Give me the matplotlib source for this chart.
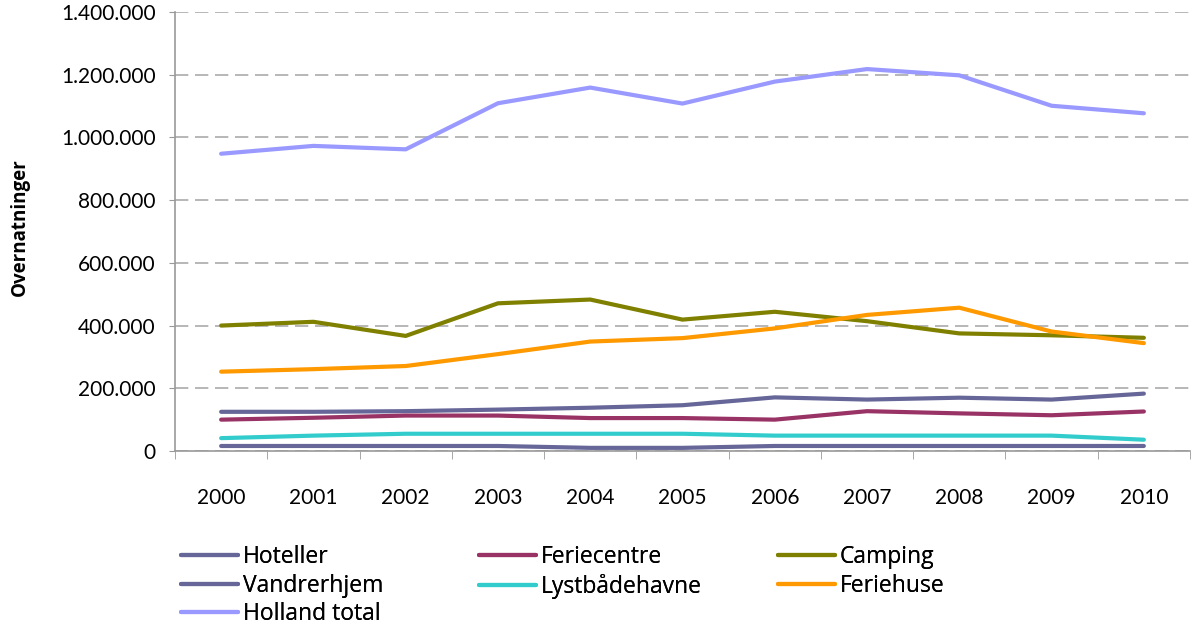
import matplotlib
matplotlib.use("Agg")
import matplotlib.pyplot as plt
from matplotlib.ticker import FuncFormatter, FixedLocator

plt.rcParams['font.family'] = ['Lato', 'DejaVu Sans']

years = ['2000', '2001', '2002', '2003', '2004', '2005', '2006', '2007', '2008', '2009', '2010']
hoteller = [125000, 125000, 127000, 132000, 138000, 146000, 171000, 164000, 170000, 164000, 183000]
feriecentre = [100000, 106000, 113000, 113000, 105000, 105000, 100000, 127000, 120000, 114000, 126000]
camping = [400000, 412000, 367000, 471000, 483000, 419000, 444000, 414000, 375000, 369000, 361000]
vandrerhjem = [16000, 16000, 16000, 16000, 10000, 10000, 16000, 16000, 16000, 16000, 16000]
lystbaadehavne = [41000, 49000, 55000, 55000, 55000, 55000, 49000, 49000, 49000, 49000, 36000]
feriehuse = [253000, 261000, 271000, 309000, 349000, 360000, 391000, 434000, 457000, 381000, 344000]
holland_total = [948000, 973000, 962000, 1109000, 1159000, 1108000, 1178000, 1218000, 1198000, 1101000, 1077000]

series = [
    ('Hoteller', hoteller, '#666699'),
    ('Feriecentre', feriecentre, '#993366'),
    ('Camping', camping, '#808000'),
    ('Vandrerhjem', vandrerhjem, '#666699'),
    ('Lystbådehavne', lystbaadehavne, '#33CCCC'),
    ('Feriehuse', feriehuse, '#FF9900'),
    ('Holland total', holland_total, '#9999FF'),
]

W, H = 1192, 627
fig = plt.figure(figsize=(W / 100, H / 100), dpi=100)
ax = fig.add_axes([175 / W, 1 - 451 / H, (1190 - 175) / W, (451 - 12) / H])

x = list(range(len(years)))
handles = {}
for name, vals, col in series:
    ln, = ax.plot(x, vals, color=col, lw=3, solid_joinstyle='round', solid_capstyle='round')
    handles[name] = ln

ax.set_xlim(-0.5, len(years) - 0.5)
ax.set_ylim(0, 1400000)
ax.set_yticks(range(0, 1400001, 200000))
ax.yaxis.set_major_formatter(FuncFormatter(lambda v, p: f"{int(v):,}".replace(',', '.')))
ax.grid(axis='y', color='#AAAAAA', linestyle=(0, (8, 4)), lw=1.2)
ax.set_axisbelow(True)

ax.set_xticks(x)
ax.set_xticklabels(years)
ax.xaxis.set_minor_locator(FixedLocator([i - 0.5 for i in range(len(years) + 1)]))
ax.tick_params(axis='x', which='major', length=0, pad=27, labelsize=15)
ax.tick_params(axis='x', which='minor', length=6, color='#999999', direction='out')
ax.tick_params(axis='y', length=4, color='#999999', pad=10, labelsize=15)

for s in ['top', 'right']:
    ax.spines[s].set_visible(False)
for s in ['left', 'bottom']:
    ax.spines[s].set_color('#999999')
    ax.spines[s].set_linewidth(1.2)

fig.text(20 / W, 1 - 227 / H, 'Overnatninger', rotation=90, ha='center', va='center',
         fontsize=13.5, fontweight='bold', family=['Open Sans', 'DejaVu Sans'])

cols = [['Hoteller', 'Vandrerhjem', 'Holland total'],
        ['Feriecentre', 'Lystbådehavne'],
        ['Camping', 'Feriehuse']]
xs = [181, 479, 778]
for xc, names in zip(xs, cols):
    leg = fig.legend([handles[n] for n in names], names, loc='upper left',
                     bbox_to_anchor=(xc / W, 1 - 545 / H), frameon=False,
                     prop={'family': ['Open Sans', 'DejaVu Sans'], 'size': 16.5},
                     handlelength=2.5, handletextpad=0.2, labelspacing=0.2,
                     borderaxespad=0, borderpad=0)
    fig.add_artist(leg)

fig.savefig('out.png', dpi=100)
